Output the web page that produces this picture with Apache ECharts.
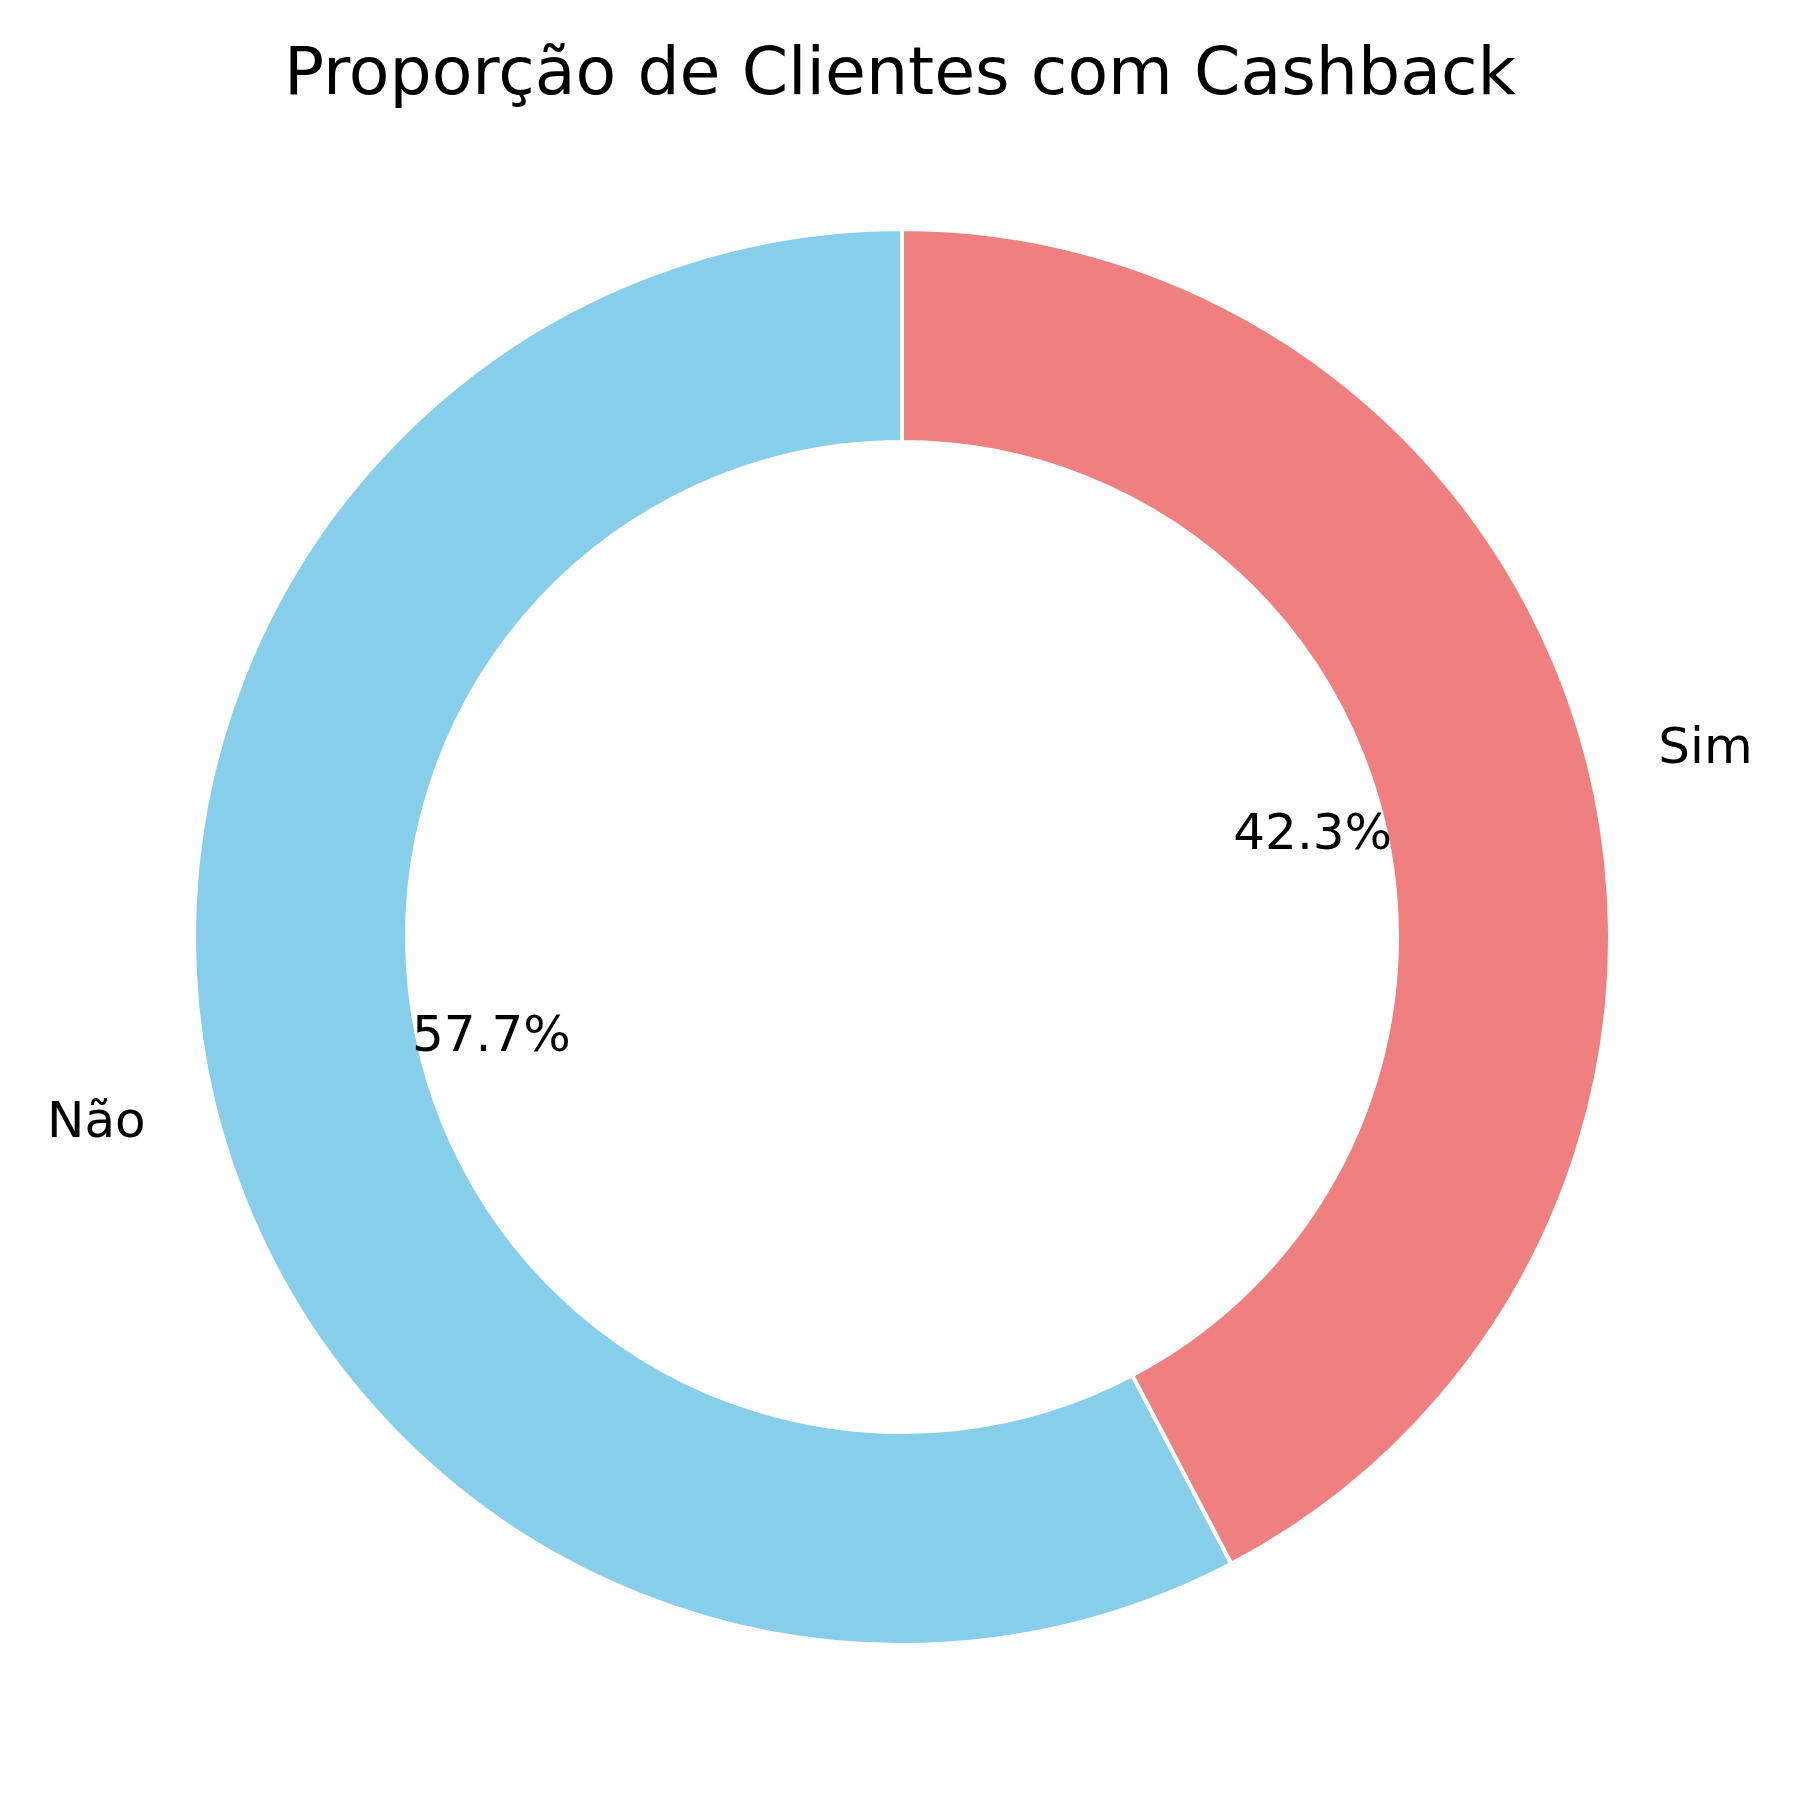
<!DOCTYPE html>
<html>
<head>
<meta charset="utf-8">
<script src="https://cdn.jsdelivr.net/npm/echarts@6/dist/echarts.min.js"></script>
<style>
	html, body { margin: 0; padding: 0; background: #fff; }
	#container { width: 1800px; height: 1800px; }
</style>
</head>
<body>
<div id="container"></div>
<script>
var categories = ['Não', 'Sim'];
var shares = [57.7, 42.3];
var colors = ['#87CEEB', '#F08080'];

var chartTitle = 'Proporção de Clientes com Cashback';
var fontFamily = '"DejaVu Sans", sans-serif';

function loadData() {
	var dom = document.getElementById('container');
	var myChart = echarts.init(dom);

	var ringData = categories.map(function (name, i) {
		return {
			name: name,
			value: shares[i],
			itemStyle: { color: colors[i] }
		};
	});

	var pctData = categories.map(function (name, i) {
		return { name: name, value: shares[i] };
	});

	var option = {
		backgroundColor: '#fff',
		animation: false,
		title: {
			text: chartTitle,
			left: 'center',
			top: 38,
			textStyle: {
				color: '#000',
				fontSize: 66.5,
				fontWeight: 'normal',
				fontFamily: fontFamily
			}
		},
		series: [{
				// the ring with the category labels outside
				type: 'pie',
				center: [902, 937],
				radius: [495, 708],
				startAngle: 90,
				clockwise: false,
				avoidLabelOverlap: false,
				silent: true,
				itemStyle: {
					borderColor: '#fff',
					borderWidth: 4
				},
				label: {
					show: true,
					position: 'outside',
					formatter: '{b}',
					color: '#000',
					fontSize: 50,
					fontFamily: fontFamily,
					distanceToLabelLine: 0
				},
				labelLine: {
					show: false,
					length: 71,
					length2: 0
				},
				data: ringData
			},
			{
				// invisible pie, only to place the percentages at 0.6 R
				type: 'pie',
				center: [902, 937],
				radius: [0, 840],
				startAngle: 90,
				clockwise: false,
				avoidLabelOverlap: false,
				silent: true,
				z: 5,
				percentPrecision: 1,
				itemStyle: {
					color: 'rgba(0,0,0,0)',
					borderWidth: 0
				},
				label: {
					show: true,
					position: 'inside',
					formatter: '{d}%',
					color: '#000',
					fontSize: 50,
					fontFamily: fontFamily
				},
				labelLine: { show: false },
				data: pctData
			}
		]
	};

	myChart.setOption(option, true);
}

loadData();
</script>
</body>
</html>
